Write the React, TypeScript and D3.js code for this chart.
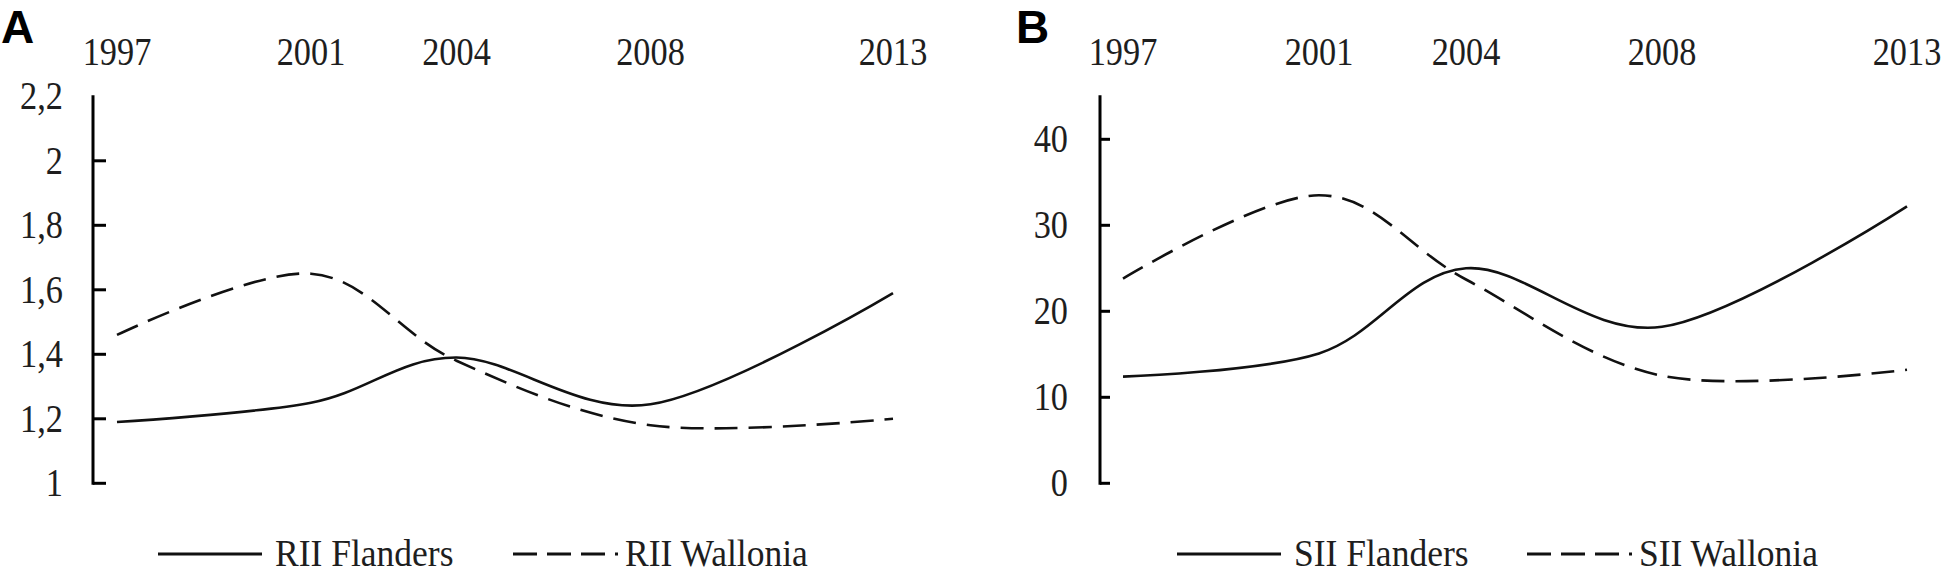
import React from "react";
import * as d3 from "d3";

const years = [1997, 2001, 2004, 2008, 2013];
const riiFlanders = [1.19, 1.25, 1.39, 1.245, 1.59];
const riiWallonia = [1.46, 1.65, 1.38, 1.18, 1.2];
const siiFlanders = [12.4, 15.1, 25.0, 18.2, 32.2];
const siiWallonia = [23.8, 33.5, 23.7, 12.5, 13.2];
const riiTicks = [1, 1.2, 1.4, 1.6, 1.8, 2, 2.2];
const siiTicks = [0, 10, 20, 30, 40];
const riiLegend = ["RII Flanders", "RII Wallonia"];
const siiLegend = ["SII Flanders", "SII Wallonia"];

const SERIF = "'Liberation Serif', 'Times New Roman', serif";
const TXT = "#1e1e1e";

function T({ x, y, anchor = "start", size = 39, sx = 0.88, children }: any) {
  return (
    <text
      transform={`translate(${x},${y}) scale(${sx},1)`}
      textAnchor={anchor}
      fontFamily={SERIF}
      fontSize={size}
      fill={TXT}
    >
      {children}
    </text>
  );
}

function Panel({
  letter, letterX, axisX, x0, x1, yDomain, ticks, tickLen, labelRight,
  fmt, flanders, wallonia, legend, legendX,
}: any) {
  const x = d3.scaleLinear().domain([1997, 2013]).range([x0, x1]);
  const y = d3.scaleLinear().domain(yDomain).range([483.3, 96.3]);
  const line = d3
    .line<number>()
    .x((_, i) => x(years[i]))
    .y((d) => y(d))
    .curve(d3.curveCardinal.tension(0));
  const top = yDomain[1];
  return (
    <g>
      <text x={letterX} y={43} fontFamily="'Liberation Sans', Arial, sans-serif" fontWeight="bold" fontSize={46} fill="#000">
        {letter}
      </text>
      {years.map((yr) => (
        <T key={yr} x={x(yr)} y={65} anchor="middle">{yr}</T>
      ))}
      <line x1={axisX} x2={axisX} y1={y(yDomain[0]) + 1.5} y2={y(top) - 1} stroke="#000" strokeWidth={3} />
      {ticks.map((t: number) => (
        <g key={t}>
          {t < top && (
            <line x1={axisX} x2={axisX + tickLen} y1={y(t)} y2={y(t)} stroke="#000" strokeWidth={3} />
          )}
          <T x={labelRight} y={y(t) + 13} anchor="end">{fmt(t)}</T>
        </g>
      ))}
      <path d={line(flanders) || ""} fill="none" stroke="#111" strokeWidth={2.6} />
      <path d={line(wallonia) || ""} fill="none" stroke="#111" strokeWidth={2.6} strokeDasharray="23 11" />
      <line x1={legendX[0]} x2={legendX[0] + 104} y1={554} y2={554} stroke="#111" strokeWidth={3} />
      <T x={legendX[0] + 117} y={566} size={37} sx={0.96}>{legend[0]}</T>
      <line x1={legendX[1]} x2={legendX[1] + 105} y1={554} y2={554} stroke="#111" strokeWidth={3} strokeDasharray="24 10" />
      <T x={legendX[1] + 112} y={566} size={37} sx={0.96}>{legend[1]}</T>
    </g>
  );
}

export default function App() {
  return (
    <svg
      width={1946}
      height={576}
      style={{ position: "absolute", left: 0, top: 0, background: "#fff" }}
    >
      <rect width={1946} height={576} fill="#fff" />
      <Panel
        letter="A" letterX={1} axisX={93} x0={117} x1={893}
        yDomain={[1, 2.2]} ticks={riiTicks} tickLen={13} labelRight={63}
        fmt={(t: number) => String(+t.toFixed(1)).replace(".", ",")}
        flanders={riiFlanders} wallonia={riiWallonia}
        legend={riiLegend} legendX={[158, 513]}
      />
      <Panel
        letter="B" letterX={1016} axisX={1100} x0={1123} x1={1907}
        yDomain={[0, 45]} ticks={siiTicks} tickLen={10} labelRight={1068}
        fmt={(t: number) => String(t)}
        flanders={siiFlanders} wallonia={siiWallonia}
        legend={siiLegend} legendX={[1177, 1527]}
      />
    </svg>
  );
}
